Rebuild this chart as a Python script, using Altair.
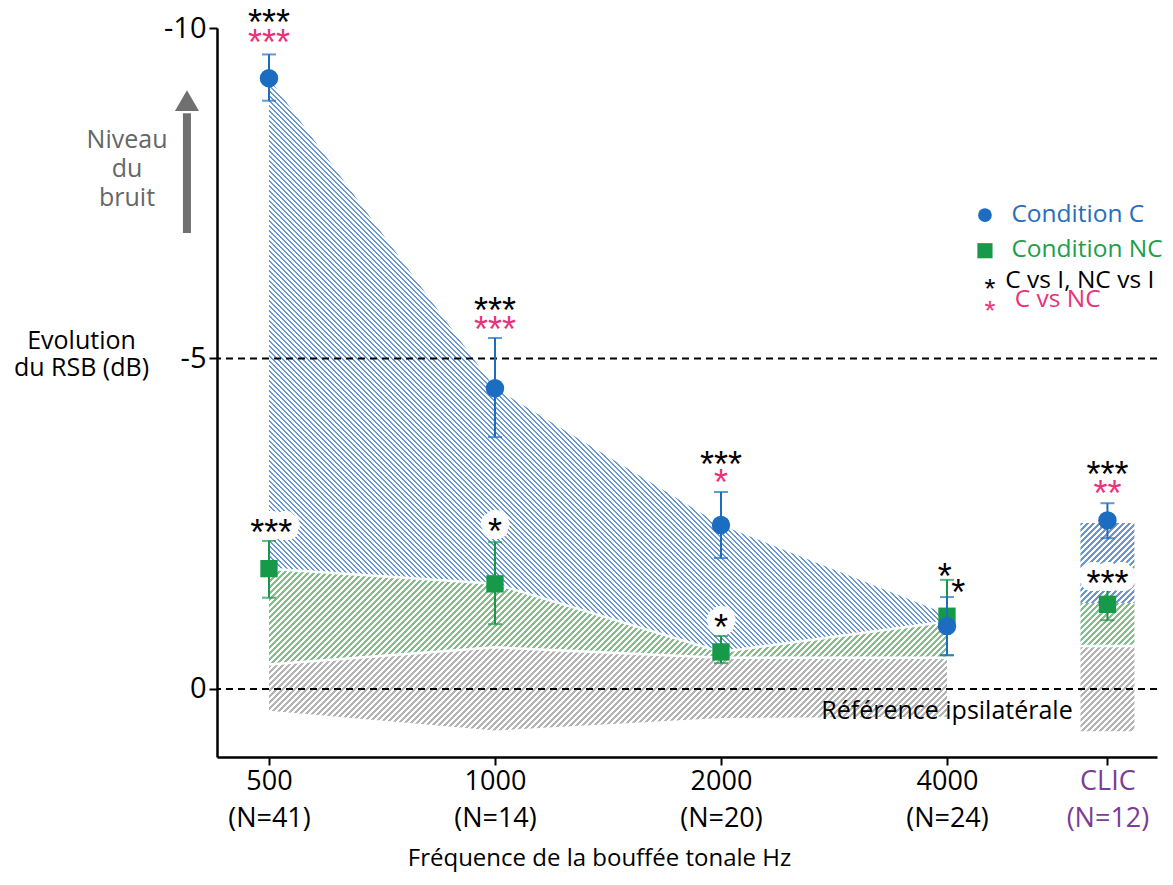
import math
import altair as alt
import pandas as pd

# ---------------- data ----------------
cats = ["500", "1000", "2000", "4000", "CLIC"]
n_labels = ["(N=41)", "(N=14)", "(N=20)", "(N=24)", "(N=12)"]
x_pos = [0, 1, 2, 3, 3.71]

c_mean = [-9.24, -4.55, -2.48, -0.95, -2.55]
c_err_lo = [-8.90, -3.81, -1.98, -0.51, -2.28]
c_err_hi = [-9.60, -5.31, -2.98, -1.39, -2.81]
nc_mean = [-1.82, -1.59, -0.56, -1.10, -1.28]
nc_err_lo = [-1.38, -0.98, -0.39, -0.51, -1.04]
nc_err_hi = [-2.24, -2.22, -0.80, -1.65, -1.52]

# hatched bands over 500..4000
band_c_top = [-9.24, -4.55, -2.48, -1.13]
band_nc_top = [-1.82, -1.59, -0.56, -1.02]
band_ref_top = [-0.37, -0.63, -0.47, -0.47]
band_ref_bottom = [0.33, 0.63, 0.44, 0.42]

# hatched blocks at CLIC
clic_c_band = [-2.51, -1.30]
clic_nc_band = [-1.30, -0.67]
clic_ref_band = [-0.63, 0.64]

# significance asterisks
sig_x = [0, 0, 1, 1, 2, 2, 3.71, 3.71, 0.01, 1, 2, 2.99, 3.05, 3.71]
sig_y = [-10.15, -9.85, -5.79, -5.51, -3.46, -3.19, -3.31, -3.03,
         -2.43, -2.45, -1.00, -1.77, -1.53, -1.66]
sig_text = ["***", "***", "***", "***", "***", "*", "***", "**",
            "***", "*", "*", "*", "*", "***"]
sig_group = ["I", "CNC", "I", "CNC", "I", "CNC", "I", "CNC",
             "I", "I", "I", "I", "I", "I"]
sig_halo = [False, False, False, False, False, False, False, False,
            True, True, True, False, False, True]

ref_lines = [-5, 0]

# ---------------- styling ----------------
FONT = "Open Sans, sans-serif"
STAR_FONT = "Liberation Sans, Arial, sans-serif"
BLUE = "#1a6dc0"
BLUE_TXT = "#2a6ebb"
GREEN = "#17994a"
GREEN_TXT = "#1f9e4b"
PINK = "#e8337a"
PURPLE = "#7d3c98"
GREY_TXT = "#666666"

W, H = 940, 729
X_MIN = -0.23
X_MAX = X_MIN + W / 226.0
Y_DOM = [-10, 1.03]
PX_X = W / (X_MAX - X_MIN)
PX_Y = H / (Y_DOM[1] - Y_DOM[0])


def hatch(color, w, h, hperiod, direction):
    # stripes at 45 degrees with an integer pixel period (avoids moire)
    n = max(2, int(math.ceil((w + h) / hperiod)))
    L = n * hperiod
    a = L * w / (w * w + h * h)
    if direction == "/":
        x1, y1, x2, y2 = 0, 0, a, a * h / w
    else:
        x1, y1, x2, y2 = 0, 1, a, 1 - a * h / w
    duty = 0.5
    stops = []
    for k in range(n):
        o0 = round(k / n, 7)
        o1 = round((k + duty) / n, 7)
        o2 = round((k + 1) / n, 7)
        stops += [{"offset": o0, "color": color}, {"offset": o1, "color": color},
                  {"offset": o1, "color": "#ffffff"}, {"offset": o2, "color": "#ffffff"}]
    return {"gradient": "linear", "x1": x1, "y1": y1, "x2": x2, "y2": y2, "stops": stops}


def bbox(tops, bottoms, xs):
    w = (max(xs) - min(xs)) * PX_X
    h = (max(bottoms) - min(tops)) * PX_Y
    return max(w, 1), max(h, 1)


x_scale = alt.Scale(domain=[X_MIN, X_MAX], nice=False, zero=False, padding=0)
y_scale = alt.Scale(domain=Y_DOM, reverse=True, nice=False, zero=False, padding=0)

label_expr = ""
for i in range(len(cats) - 1):
    mid = (x_pos[i] + x_pos[i + 1]) / 2
    label_expr += f"datum.value < {mid} ? ['{cats[i]}', '{n_labels[i]}'] : "
label_expr += f"['{cats[-1]}', '{n_labels[-1]}']"

x_axis = alt.Axis(
    values=x_pos, labelExpr=label_expr, title="Fréquence de la bouffée tonale Hz",
    labelFontSize=27, labelLineHeight=37, labelPadding=3, labelFont=FONT,
    labelColor={"condition": {"test": "datum.value > 3.5", "value": PURPLE}, "value": "black"},
    labelOverlap=False, labelFlush=False, labelBound=False,
    titleFont=FONT, titleFontSize=24, titleFontWeight="normal", titleColor="black",
    titleX=382, titleY=101, titleAnchor="start", titleAlign="center", titleBaseline="middle",
    tickSize=8, tickWidth=2, tickColor="black", domainWidth=2.5, domainColor="black", grid=False,
)
y_axis = alt.Axis(
    values=[-10, -5, 0], labelExpr="toString(datum.value)",
    labelFontSize=29, labelFont=FONT, labelPadding=3, labelColor="black",
    title=["Evolution", "du RSB (dB)"], titleAngle=0, titleAlign="center", titleBaseline="middle",
    titleX=-136, titleY=312, titleFont=FONT, titleFontSize=25, titleFontWeight="normal",
    titleLineHeight=27, titleColor="black",
    tickSize=8, tickWidth=2, tickColor="black", domainWidth=2.5, domainColor="black", grid=False,
)


def X(field):
    return alt.X(field, type="quantitative", scale=x_scale, axis=x_axis)


def Y(field):
    return alt.Y(field, type="quantitative", scale=y_scale, axis=y_axis)


bands = pd.DataFrame({
    "x": x_pos[:4], "c_top": band_c_top, "nc_top": band_nc_top,
    "ref_top": band_ref_top, "ref_bot": band_ref_bottom,
})

w_c, h_c = bbox(band_c_top, band_nc_top, x_pos[:4])
w_n, h_n = bbox(band_nc_top, band_ref_top, x_pos[:4])
w_r, h_r = bbox(band_ref_top, band_ref_bottom, x_pos[:4])

BLUE_H = "#6a98d6"
GREEN_H = "#80c08f"
GREY_H = "#b4b4b4"

base_b = alt.Chart(bands)
area_ref = base_b.mark_area(fill=hatch(GREY_H, w_r, h_r, 6, "/")).encode(
    x=X("x"), y=Y("ref_top"), y2="ref_bot")
area_nc = base_b.mark_area(fill=hatch(GREEN_H, w_n, h_n, 6, "/")).encode(
    x=X("x"), y=Y("nc_top"), y2="ref_top")
area_c = base_b.mark_area(fill=hatch(BLUE_H, w_c, h_c, 5, "\\")).encode(
    x=X("x"), y=Y("c_top"), y2="nc_top")
sep1 = base_b.mark_line(color="white", strokeWidth=2.5).encode(x=X("x"), y=Y("nc_top"))
sep2 = base_b.mark_line(color="white", strokeWidth=2.5).encode(x=X("x"), y=Y("ref_top"))

BW = 54


def clic_rect(band, color):
    h = (band[1] - band[0]) * PX_Y
    df = pd.DataFrame({"x": [x_pos[4]], "a": [band[0]], "b": [band[1]]})
    return alt.Chart(df).mark_bar(size=BW, fill=hatch(color, BW, h, 6, "/")).encode(
        x=X("x"), y=Y("a"), y2="b")


clic_ref = clic_rect(clic_ref_band, GREY_H)
clic_nc = clic_rect(clic_nc_band, GREEN_H)
clic_c = clic_rect(clic_c_band, BLUE_H)

rules = alt.Chart(pd.DataFrame({"y": ref_lines})).mark_rule(
    color="black", strokeWidth=2, strokeDash=[7, 5]).encode(y=Y("y"))

ref_text = alt.Chart(pd.DataFrame({"x": [3.0], "y": [0.33], "t": ["Référence ipsilatérale"]})).mark_text(
    font=FONT, fontSize=25, color="black", align="center", baseline="middle").encode(
    x=X("x"), y=Y("y"), text="t:N")

pts = pd.DataFrame({
    "x": x_pos, "c": c_mean, "c_lo": c_err_lo, "c_hi": c_err_hi,
    "nc": nc_mean, "nc_lo": nc_err_lo, "nc_hi": nc_err_hi,
})
base_p = alt.Chart(pts)
err_nc = base_p.mark_errorbar(ticks=True, size=14, thickness=2, color=GREEN).encode(
    x=X("x"), y=Y("nc_lo"), y2="nc_hi")
pt_nc = base_p.mark_point(shape="square", filled=True, size=300, color=GREEN, opacity=1).encode(
    x=X("x"), y=Y("nc"))
err_c = base_p.mark_errorbar(ticks=True, size=14, thickness=2, color=BLUE).encode(
    x=X("x"), y=Y("c_lo"), y2="c_hi")
pt_c = base_p.mark_point(shape="circle", filled=True, size=340, color=BLUE, opacity=1).encode(
    x=X("x"), y=Y("c"))

sig = pd.DataFrame({"x": sig_x, "y": sig_y, "t": sig_text, "g": sig_group, "halo": sig_halo})
halo = alt.Chart(sig).transform_filter("datum.halo").mark_text(
    font=STAR_FONT, fontSize=36, color="white", stroke="white", strokeWidth=16, strokeJoin="round",
    align="center", baseline="alphabetic", dy=17).encode(x=X("x"), y=Y("y"), text="t:N")
stars = alt.Chart(sig).mark_text(
    font=STAR_FONT, fontSize=36, align="center", baseline="alphabetic", dy=17).encode(
    x=X("x"), y=Y("y"), text="t:N",
    color=alt.Color("g:N", scale=alt.Scale(domain=["I", "CNC"], range=["black", PINK]), legend=None))

# legend (drawn as marks)
leg_c = alt.Chart(pd.DataFrame({"x": [3.168], "y": [-7.17]})).mark_point(
    shape="circle", filled=True, size=190, color=BLUE, opacity=1).encode(x=X("x"), y=Y("y"))
leg_sq = alt.Chart(pd.DataFrame({"x": [3.168], "y": [-6.63]})).mark_point(
    shape="square", filled=True, size=230, color=GREEN, opacity=1).encode(x=X("x"), y=Y("y"))
leg_txt = pd.DataFrame({
    "x": [3.285, 3.285, 3.258, 3.30],
    "y": [-7.17, -6.64, -6.17, -5.88],
    "t": ["Condition C", "Condition NC", "C vs I,  NC vs I", "C vs NC"],
    "col": [BLUE_TXT, GREEN_TXT, "black", PINK],
})
leg_text = alt.Chart(leg_txt).mark_text(font=FONT, fontSize=24.5, align="left", baseline="middle").encode(
    x=X("x"), y=Y("y"), text="t:N", color=alt.Color("col:N", scale=None))
leg_star = alt.Chart(pd.DataFrame({"x": [3.19, 3.19], "y": [-6.14, -5.81], "t": ["*", "*"],
                                   "col": ["black", PINK]})).mark_text(
    font=STAR_FONT, fontSize=28, align="center", baseline="alphabetic", dy=15).encode(
    x=X("x"), y=Y("y"), text="t:N", color=alt.Color("col:N", scale=None))

# "Niveau du bruit" arrow
arrow_df = pd.DataFrame({"x": [-0.363], "y0": [-6.90], "y1": [-8.71], "yh": [-8.90]})
shaft = alt.Chart(arrow_df).mark_rule(color="#707070", strokeWidth=8).encode(
    x=X("x"), y=Y("y0"), y2="y1")
head = alt.Chart(arrow_df).mark_point(shape="triangle-up", filled=True, size=576, color="#707070",
                                      opacity=1).encode(x=X("x"), y=Y("yh"))
noise_text = alt.Chart(pd.DataFrame({"x": [-0.628], "y": [-8.31], "t": ["Niveau\ndu\nbruit"]})).mark_text(
    font=FONT, fontSize=25, color=GREY_TXT, align="center", baseline="middle", lineBreak="\n",
    lineHeight=29).encode(x=X("x"), y=Y("y"), text="t:N")

chart = alt.layer(
    area_ref, area_nc, area_c, clic_ref, clic_nc, clic_c, sep1, sep2,
    rules, ref_text, err_nc, pt_nc, err_c, pt_c, halo, stars,
    leg_c, leg_sq, leg_text, leg_star, shaft, head, noise_text,
).properties(
    width=W, height=H,
    padding={"left": 209, "top": 20, "right": 8, "bottom": 118},
    autosize=alt.AutoSizeParams(type="none"),
).configure_view(strokeWidth=0)

chart.save("out.html", embed_options={"renderer": "svg", "actions": False})
